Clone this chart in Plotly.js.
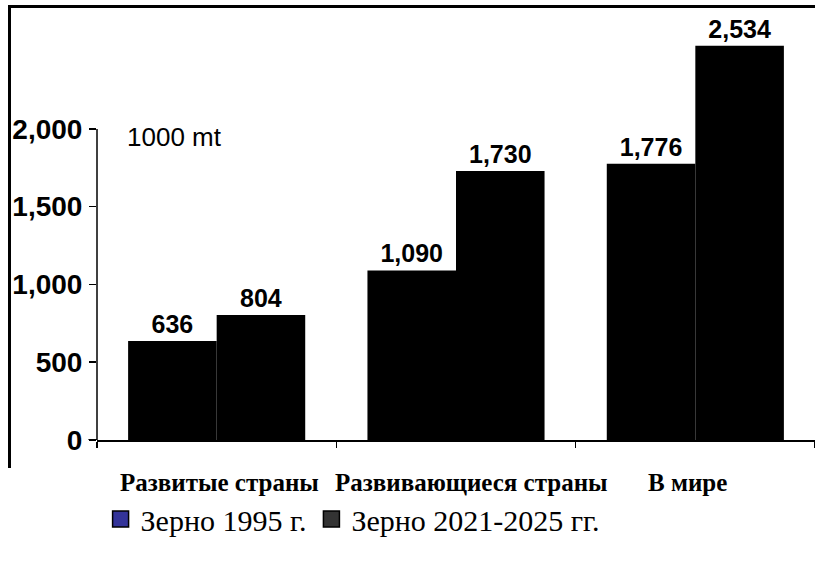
<!DOCTYPE html>
<html>
<head>
<meta charset="utf-8">
<script src="https://cdn.plot.ly/plotly-3.0.1.min.js"></script>
<style>
  html, body { margin: 0; padding: 0; background: #fff; }
  #wrap { position: relative; width: 815px; height: 562px; }
  #chart { position: absolute; left: 0; top: 0; width: 815px; height: 562px; }
  #frame { position: absolute; left: 8px; top: 5px; width: 810px; height: 460px;
           border-left: 3px solid #000; border-top: 3px solid #000; pointer-events: none; }
</style>
</head>
<body>
<div id="wrap">
  <div id="chart"></div>
  <div id="frame"></div>
</div>
<script>
// ---- data ----
const categories = ["Развитые страны", "Развивающиеся страны", "В мире"];
const grain1995 = [636, 1090, 1776];
const grain2021_2025 = [804, 1730, 2534];
const seriesNames = ["Зерно 1995 г.", "Зерно 2021-2025 гг."];
const legendColors = ["#333399", "#333333"];
const yTickVals = [0, 500, 1000, 1500, 2000];
const unitLabel = "1000 mt";

const labelFont = { family: "Liberation Sans, Arial, sans-serif", size: 25, color: "#000", weight: "bold" };

const barBase = {
  type: "bar",
  x: categories,
  marker: { color: "#000000", line: { width: 0 } },
  texttemplate: "%{y:,}",
  textposition: "outside",
  textfont: labelFont,
  cliponaxis: false,
  showlegend: false,
  hoverinfo: "skip"
};

const traces = [
  Object.assign({}, barBase, { y: grain1995, name: seriesNames[0] }),
  Object.assign({}, barBase, { y: grain2021_2025, name: seriesNames[1] }),
  // legend-only entries (legend colours differ from the black bars in the original)
  { type: "scatter", mode: "markers", x: [null], y: [null], name: seriesNames[0],
    marker: { symbol: "square", size: 16, color: legendColors[0], line: { color: "#000", width: 1.5 } } },
  { type: "scatter", mode: "markers", x: [null], y: [null], name: seriesNames[1],
    marker: { symbol: "square", size: 16, color: legendColors[1], line: { color: "#000", width: 1.5 } } }
];

// category labels placed as in the original
const catLabelX = [0.170, 0.522, 0.823];
const annotations = categories.map((c, i) => ({
  xref: "paper", yref: "paper", x: catLabelX[i], y: -0.1,
  xanchor: "center", yanchor: "middle", showarrow: false, text: c,
  font: { family: "Liberation Serif, Times New Roman, serif", size: 25, color: "#000", weight: "bold" }
}));
annotations.push({
  xref: "paper", yref: "paper", x: 0.039, y: 0.721, xanchor: "left", yanchor: "middle",
  showarrow: false, text: unitLabel,
  font: { family: "Liberation Sans, Arial, sans-serif", size: 26, color: "#000" }
});

const layout = {
  width: 815, height: 562,
  margin: { l: 97, r: 0, t: 20, b: 122 },
  paper_bgcolor: "#fff", plot_bgcolor: "#fff",
  barmode: "group", bargap: 0.26, bargroupgap: 0,
  xaxis: {
    type: "category", range: [-0.5, 2.5],
    showline: true, linecolor: "#000", linewidth: 2,
    ticks: "outside", tickson: "boundaries", ticklen: 6, tickcolor: "#000", tickwidth: 1.5,
    showticklabels: false, showgrid: false, zeroline: false, fixedrange: true
  },
  yaxis: {
    range: [0, 2700],
    tickvals: yTickVals, tickformat: ",d",
    ticks: "outside", ticklen: 7, tickcolor: "#000", tickwidth: 1.5,
    ticklabelstandoff: 1,
    tickfont: { family: "Liberation Sans, Arial, sans-serif", size: 28, color: "#000", weight: "bold" },
    showline: false, showgrid: false, zeroline: false, fixedrange: true
  },
  shapes: [
    { type: "line", xref: "paper", yref: "y", x0: 0, x1: 0, y0: 0, y1: 2000,
      line: { color: "#000", width: 1.5 } },
    { type: "line", xref: "paper", yref: "y", x0: -0.012, x1: 0, y0: 0, y1: 0,
      line: { color: "#000", width: 2 } }
  ],
  annotations: annotations,
  showlegend: true,
  legend: {
    orientation: "h", x: 0.005, y: -0.188, xanchor: "left", yanchor: "middle",
    font: { family: "Liberation Serif, Times New Roman, serif", size: 30, color: "#000" },
    bgcolor: "rgba(0,0,0,0)"
  }
};

Plotly.newPlot("chart", traces, layout, { displayModeBar: false, staticPlot: true });
</script>
</body>
</html>
